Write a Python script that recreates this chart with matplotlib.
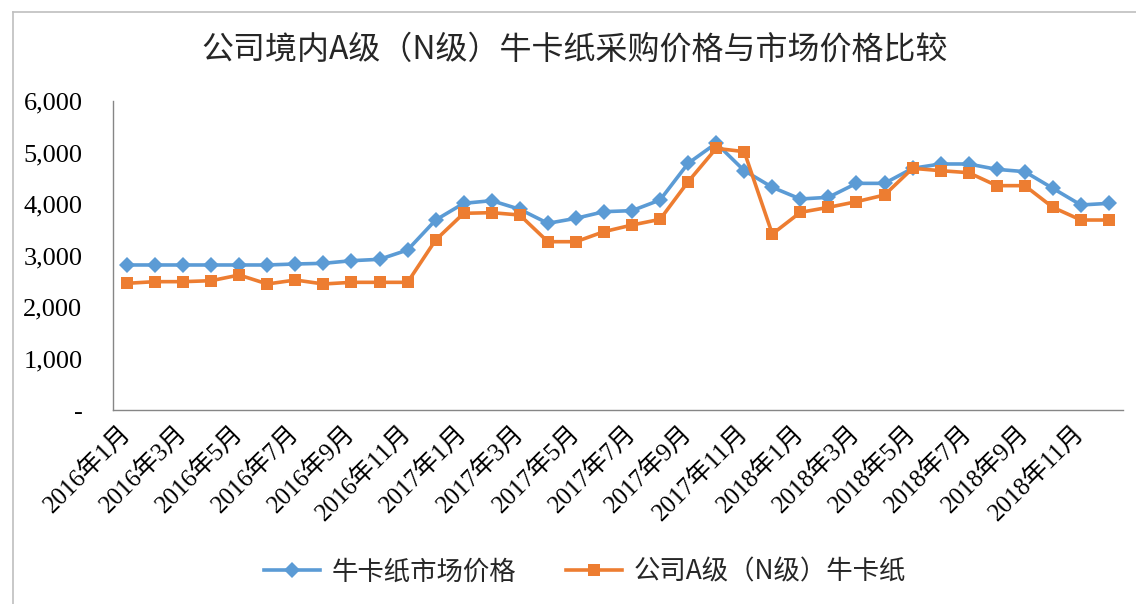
import matplotlib
matplotlib.use("Agg")
import matplotlib.pyplot as plt
from matplotlib.lines import Line2D

months = [f"{y}年{m}月" for y in (2016, 2017, 2018) for m in range(1, 13)]
tick_labels = months[::2]

market_price = [2816, 2816, 2816, 2816, 2816, 2816, 2835, 2848, 2899, 2926, 3107, 3689,
                4013, 4065, 3897, 3625, 3722, 3851, 3871, 4078, 4790, 5180, 4648, 4324,
                4097, 4130, 4401, 4401, 4693, 4777, 4777, 4673, 4628, 4304, 3981, 4013]
company_price = [2460, 2492, 2492, 2511, 2621, 2447, 2524, 2447, 2479, 2479, 2479, 3301,
                 3819, 3832, 3786, 3268, 3268, 3463, 3592, 3702, 4433, 5081, 5016, 3417,
                 3838, 3935, 4045, 4175, 4693, 4647, 4608, 4356, 4356, 3935, 3689, 3689]
series_names = ["牛卡纸市场价格", "公司A级（N级）牛卡纸"]
y_ticks = [0, 1000, 2000, 3000, 4000, 5000, 6000]
y_tick_labels = ["-", "1,000", "2,000", "3,000", "4,000", "5,000", "6,000"]
title = "公司境内A级（N级）牛卡纸采购价格与市场价格比较"

BLUE = "#5B9BD5"
ORANGE = "#ED7D31"
CJK = ["Noto Sans CJK SC", "DejaVu Sans"]
MIX = ["Liberation Serif", "Noto Sans CJK SC"]

W, H = 1136, 604
fig = plt.figure(figsize=(W / 100, H / 100), dpi=100)
fig.patch.set_facecolor("white")

# outer chart border (left and top visible)
fig.add_artist(Line2D([13 / W, 13 / W], [0, 1 - 12 / H], transform=fig.transFigure,
                      color="#BFBFBF", lw=1.2))
fig.add_artist(Line2D([13 / W, 1], [1 - 12 / H, 1 - 12 / H], transform=fig.transFigure,
                      color="#BFBFBF", lw=1.2))

ax = fig.add_axes([113 / W, 1 - 410 / H, 1010 / W, 309 / H])
x = list(range(len(months)))
ax.plot(x, market_price, color=BLUE, lw=2.6, marker="D", markersize=8,
        markeredgewidth=0, label=series_names[0])
ax.plot(x, company_price, color=ORANGE, lw=2.6, marker="s", markersize=9,
        markeredgewidth=0, label=series_names[1])

ax.set_xlim(-0.5, len(months) - 0.5)
ax.set_ylim(0, 6000)
ax.set_yticks(y_ticks)
ax.set_yticklabels(y_tick_labels, family=MIX, fontsize=19)
ax.set_xticks(x[::2])
ax.set_xticklabels(tick_labels, family=MIX, fontsize=18, rotation=45,
                   ha="right", va="center", rotation_mode="anchor")
ax.tick_params(axis="y", length=0, pad=22)
ax.tick_params(axis="x", length=0, pad=14)
for s in ("top", "right"):
    ax.spines[s].set_visible(False)
for s in ("left", "bottom"):
    ax.spines[s].set_color("#868686")
    ax.spines[s].set_linewidth(1.0)

fig.text(575 / W, 1 - 50 / H, title, ha="center", va="center", fontsize=23,
         family=CJK, color="#262626")

fig.legend(loc="center", bbox_to_anchor=(585 / W, 1 - 572 / H), ncol=2, frameon=False,
           prop={"family": CJK, "size": 19}, handlelength=2.1, handletextpad=0.45,
           columnspacing=1.9, labelcolor="#262626")

fig.savefig("out.png", dpi=100)
